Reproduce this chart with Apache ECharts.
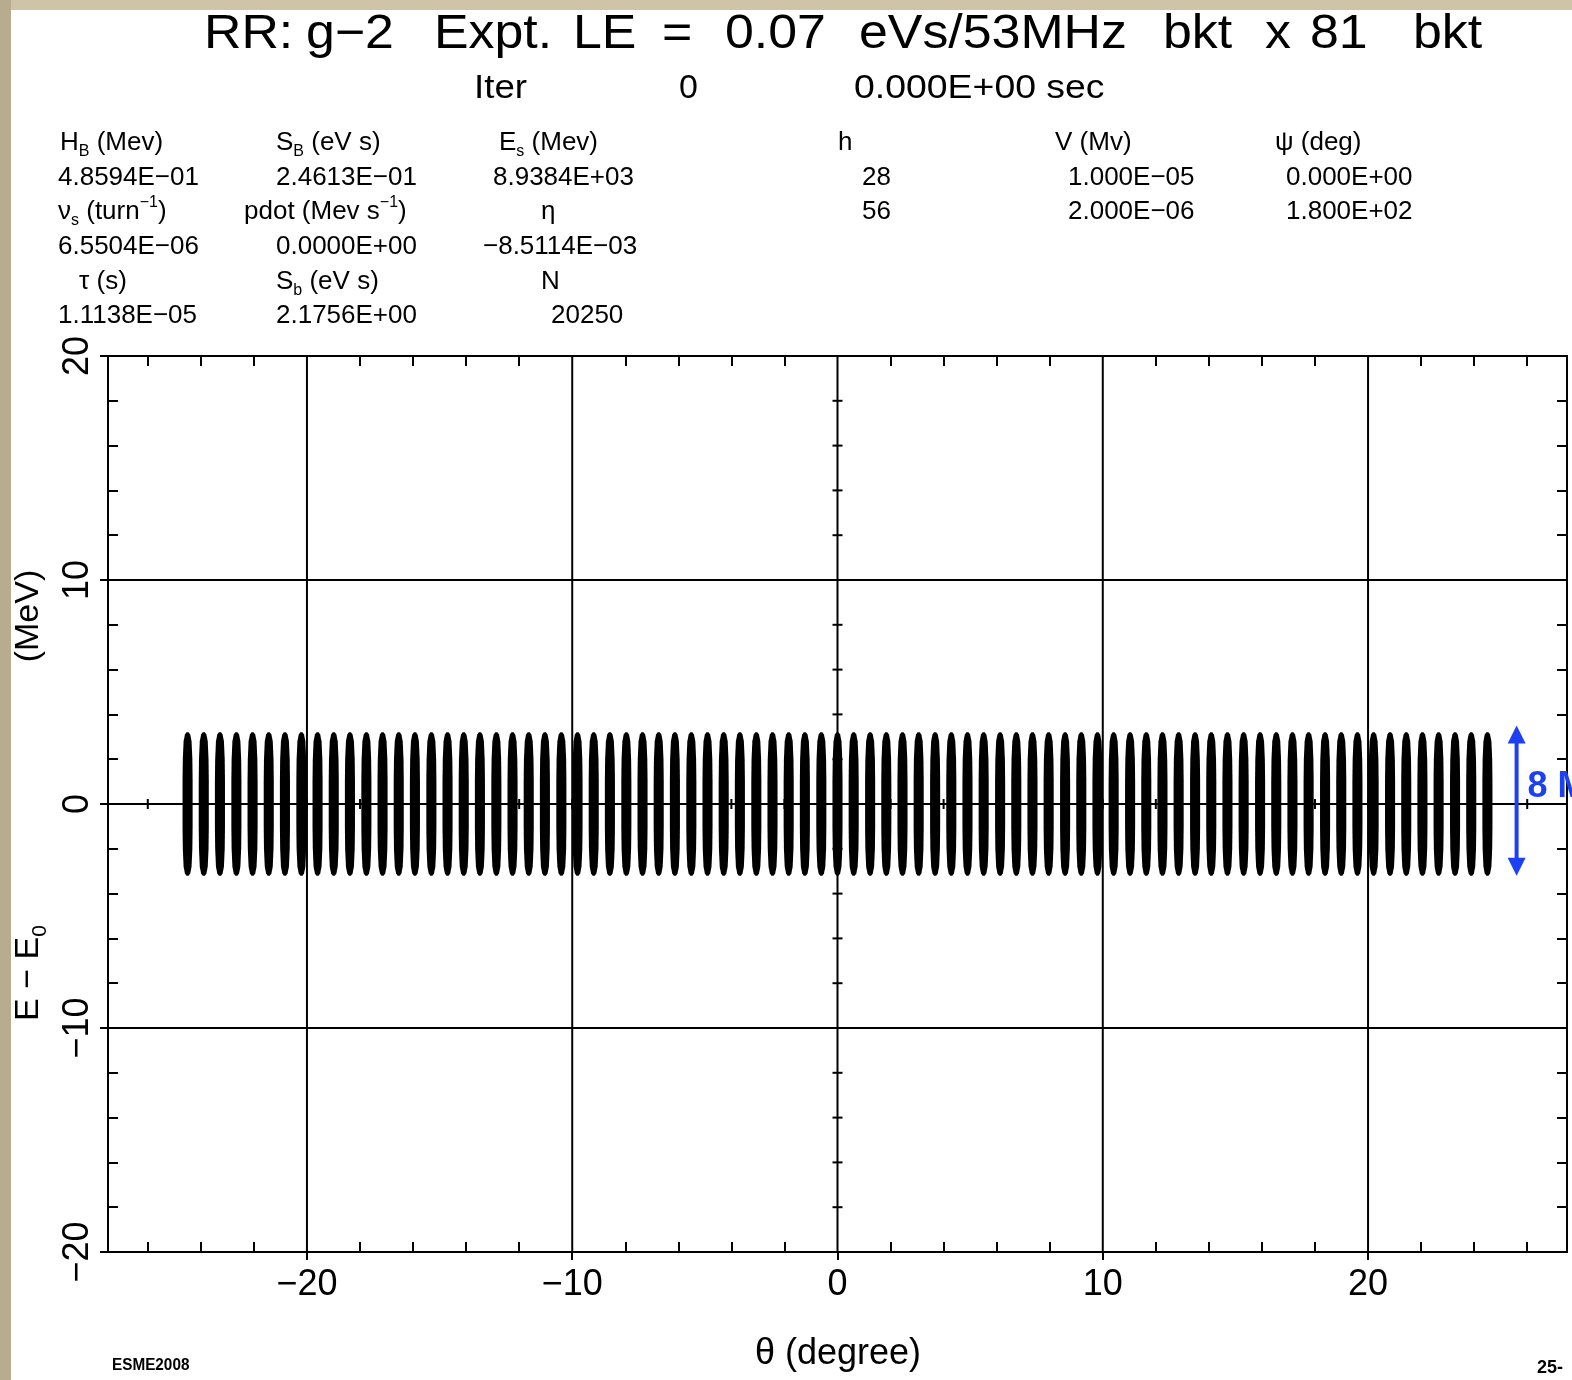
<!DOCTYPE html>
<html><head><meta charset="utf-8">
<script src="https://cdn.jsdelivr.net/npm/echarts@6/dist/echarts.min.js"></script>
<style>html,body{margin:0;padding:0;background:#fff}#c{width:1572px;height:1380px}</style>
</head><body><div id="c"></div>
<script>
// ---------- data ----------
const bunchCenters = [
 -24.50,-23.89,-23.28,-22.66,-22.05,-21.44,-20.83,-20.21,-19.60,-18.99,
 -18.38,-17.76,-17.15,-16.54,-15.93,-15.31,-14.70,-14.09,-13.48,-12.86,
 -12.25,-11.64,-11.03,-10.41,-9.80,-9.19,-8.58,-7.96,-7.35,-6.74,
 -6.13,-5.51,-4.90,-4.29,-3.68,-3.06,-2.45,-1.84,-1.23,-0.61,
 0.00,0.61,1.23,1.84,2.45,3.06,3.68,4.29,4.90,5.51,
 6.13,6.74,7.35,7.96,8.58,9.19,9.80,10.41,11.03,11.64,
 12.25,12.86,13.48,14.09,14.70,15.31,15.93,16.54,17.15,17.76,
 18.38,18.99,19.60,20.21,20.83,21.44,22.05,22.66,23.28,23.89,24.50
];
// shape of one bunch: energy (MeV) and half width (degree) along its outline
const bunchProfileE = [-3.2,-3.1,-2.8,-2.0,-1.0,0.0,1.0,2.0,2.8,3.1,3.2];
const bunchProfileHalfWidth = [0.04,0.10,0.15,0.18,0.19,0.19,0.19,0.18,0.15,0.10,0.04];

const xRange = [-27.5, 27.5];
const yRange = [-20, 20];
const xLabelValues = [-20,-10,0,10,20];
const xMinorTicks = [-26,-24,-22,-18,-16,-14,-12,-8,-6,-4,-2,2,4,6,8,12,14,16,18,22,24,26];
const yLabelValues = [-20,-10,0,10,20];
const yMinorTicks = [-18,-16,-14,-12,-8,-6,-4,-2,2,4,6,8,12,14,16,18];
const gridLinesX = [-20,-10,0,10,20];
const gridLinesY = [-10,0,10];
const zeroLineTicksX = [-26,-24,-22,-20,-18,-16,-14,-12,-10,-8,-6,-4,-2,2,4,6,8,10,12,14,16,18,20,22,24,26];
const zeroLineTicksY = [-18,-16,-14,-12,-10,-8,-6,-4,-2,2,4,6,8,10,12,14,16,18];

const arrowX = 25.6, arrowLow = -3.2, arrowHigh = 3.5, arrowLabelE = 0.75;
const arrowLabel = '8 MeV';

// ---------- layout / style ----------
const FONT = "'Liberation Sans', Arial, sans-serif";
const BLUE = '#1d40f2';
const minus = v => String(v).replace('-', '\u2212');

const texts = [];
function T(text, x, y, size, extra) {
  texts.push(Object.assign({text, x, y, size}, extra || {}));
}
// title words
[['RR:',204],['g\u22122',306],['Expt.',434],['LE',573],['=',662],['0.07',725],
 ['eVs/53MHz',859],['bkt',1163],['x',1265],['81',1310],['bkt',1413]].forEach(w => T(w[0], w[1], 35, 48, {sx: 1.08}));
T('Iter', 474, 89, 34, {sx: 1.08}); T('0', 679, 89, 34); T('0.000E+00 sec', 854, 89, 34, {sx: 1.1});
const R = [143, 178, 212, 247, 282, 316];
T('H{sub|B} (Mev)', 60, R[0], 26); T('4.8594E\u221201', 58, R[1], 26);
T('\u03bd{sub|s} (turn{sup|\u22121})', 58, R[2], 26); T('6.5504E\u221206', 58, R[3], 26);
T('\u03c4 (s)', 79, R[4], 26); T('1.1138E\u221205', 58, R[5], 26);
T('S{sub|B} (eV s)', 276, R[0], 26); T('2.4613E\u221201', 276, R[1], 26);
T('pdot (Mev s{sup|\u22121})', 244, R[2], 26); T('0.0000E+00', 276, R[3], 26);
T('S{sub|b} (eV s)', 276, R[4], 26); T('2.1756E+00', 276, R[5], 26);
T('E{sub|s} (Mev)', 499, R[0], 26); T('8.9384E+03', 493, R[1], 26);
T('\u03b7', 541, R[2], 26); T('\u22128.5114E\u221203', 483, R[3], 26);
T('N', 541, R[4], 26); T('20250', 551, R[5], 26);
T('h', 838, R[0], 26); T('28', 862, R[1], 26); T('56', 862, R[2], 26);
T('V (Mv)', 1055, R[0], 26); T('1.000E\u221205', 1068, R[1], 26); T('2.000E\u221206', 1068, R[2], 26);
T('\u03c8 (deg)', 1275, R[0], 26); T('0.000E+00', 1286, R[1], 26); T('1.800E+02', 1286, R[2], 26);
T('\u03b8 (degree)', 838, 1354, 36, {align: 'center'});
T('(MeV)', 29, 616, 34, {align: 'center', rotation: Math.PI / 2});
T('E \u2212 E{sub|0}', 29, 973, 34, {align: 'center', rotation: Math.PI / 2});
T('ESME2008', 112, 1365, 17, {bold: true, sx: 0.9});
T('25-', 1537, 1368, 18, {bold: true});

function richFor(size) {
  return {
    sub: {fontSize: Math.round(size * 0.62), fontFamily: FONT, fill: '#000', verticalAlign: 'bottom', lineHeight: Math.round(size * 0.62)},
    sup: {fontSize: Math.round(size * 0.6), fontFamily: FONT, fill: '#000', verticalAlign: 'top', lineHeight: Math.round(size * 0.6)}
  };
}

const graphics = [
  {type: 'rect', shape: {x: 0, y: 0, width: 1572, height: 10}, style: {fill: '#cfc4a8'}, silent: true},
  {type: 'rect', shape: {x: 0, y: 0, width: 11, height: 1380}, style: {fill: '#b7ac8e'}, silent: true}
].concat(texts.map(t => ({
  type: 'text', x: t.x, y: t.y, rotation: t.rotation || 0, scaleX: t.sx || 1, silent: true,
  style: {
    text: t.text, x: 0, y: 0, fill: '#000',
    fontSize: t.size, fontFamily: FONT, fontWeight: t.bold ? 'bold' : 'normal',
    align: t.align || 'left', verticalAlign: 'middle',
    textAlign: t.align || 'left', textVerticalAlign: 'middle',
    lineHeight: Math.round(t.size * 1.3),
    rich: richFor(t.size)
  }
})));

const axisLineStyle = {color: '#000', width: 2};
function xAx(position, ticks, inside, len, showLine, labels) {
  return {
    type: 'value', gridIndex: 0, position, min: xRange[0], max: xRange[1],
    axisLine: {show: showLine, onZero: false, lineStyle: axisLineStyle},
    axisTick: {show: true, inside, length: len, customValues: ticks, lineStyle: axisLineStyle},
    axisLabel: labels ? {show: true, customValues: labels, formatter: minus, fontSize: 36,
      fontFamily: FONT, color: '#000', margin: 15} : {show: false},
    splitLine: {show: false}
  };
}
function yAx(position, ticks, inside, len, showLine, labels) {
  return {
    type: 'value', gridIndex: 0, position, min: yRange[0], max: yRange[1],
    axisLine: {show: showLine, onZero: false, lineStyle: axisLineStyle},
    axisTick: {show: true, inside, length: len, customValues: ticks, lineStyle: axisLineStyle},
    axisLabel: labels ? {show: true, customValues: labels, formatter: minus, fontSize: 36,
      fontFamily: FONT, color: '#000', rotate: 90, margin: 12} : {show: false},
    splitLine: {show: false}
  };
}

const lineSeriesBase = {type: 'custom', xAxisIndex: 0, yAxisIndex: 0, silent: true, animation: false};

const option = {
  backgroundColor: '#fff',
  animation: false,
  grid: {left: 108, top: 356, width: 1459, height: 896, containLabel: false, outerBoundsMode: 'none'},
  xAxis: [
    xAx('bottom', xMinorTicks, true, 10, true, xLabelValues),
    xAx('bottom', xLabelValues, false, 8, false, null),
    xAx('top', xMinorTicks, true, 10, true, null)
  ],
  yAxis: [
    yAx('left', yMinorTicks, true, 10, true, yLabelValues),
    yAx('left', yLabelValues, false, 8, false, null),
    yAx('right', yMinorTicks, true, 10, true, null)
  ],
  graphic: {elements: graphics},
  series: [
    Object.assign({}, lineSeriesBase, {
      name: 'bunches', z: 3,
      data: bunchCenters.map(c => [c, 0]),
      renderItem: (p, api) => {
        const c = api.value(0), pts = [];
        for (let i = 0; i < bunchProfileE.length; i++) pts.push(api.coord([c + bunchProfileHalfWidth[i], bunchProfileE[i]]));
        for (let i = bunchProfileE.length - 1; i >= 0; i--) pts.push(api.coord([c - bunchProfileHalfWidth[i], bunchProfileE[i]]));
        return {type: 'polygon', shape: {points: pts}, style: {fill: '#000'}};
      }
    }),
    Object.assign({}, lineSeriesBase, {
      name: 'gridX', z: 2,
      data: gridLinesX.map(v => [v, 0]),
      renderItem: (p, api) => {
        const a = api.coord([api.value(0), yRange[0]]), b = api.coord([api.value(0), yRange[1]]);
        return {type: 'line', shape: {x1: a[0], y1: a[1], x2: b[0], y2: b[1]}, style: {stroke: '#000', lineWidth: 2}};
      }
    }),
    Object.assign({}, lineSeriesBase, {
      name: 'gridY', z: 2,
      data: gridLinesY.map(v => [0, v]),
      renderItem: (p, api) => {
        const a = api.coord([xRange[0], api.value(1)]), b = api.coord([xRange[1], api.value(1)]);
        return {type: 'line', shape: {x1: a[0], y1: a[1], x2: b[0], y2: b[1]}, style: {stroke: '#000', lineWidth: 2}};
      }
    }),
    Object.assign({}, lineSeriesBase, {
      name: 'zeroTicksX', z: 2,
      data: zeroLineTicksX.map(v => [v, 0]),
      renderItem: (p, api) => {
        const a = api.coord([api.value(0), 0]);
        return {type: 'line', shape: {x1: a[0], y1: a[1] - 5, x2: a[0], y2: a[1] + 5}, style: {stroke: '#000', lineWidth: 2}};
      }
    }),
    Object.assign({}, lineSeriesBase, {
      name: 'zeroTicksY', z: 2,
      data: zeroLineTicksY.map(v => [0, v]),
      renderItem: (p, api) => {
        const a = api.coord([0, api.value(1)]);
        return {type: 'line', shape: {x1: a[0] - 5, y1: a[1], x2: a[0] + 5, y2: a[1]}, style: {stroke: '#000', lineWidth: 2}};
      }
    }),
    Object.assign({}, lineSeriesBase, {
      name: 'arrow', z: 5,
      data: [[arrowX, arrowLow, arrowHigh, arrowLabelE]],
      renderItem: (p, api) => {
        const top = api.coord([api.value(0), api.value(2)]);
        const bot = api.coord([api.value(0), api.value(1)]);
        const lab = api.coord([api.value(0), api.value(3)]);
        const x = top[0], hw = 9, hh = 18;
        return {type: 'group', children: [
          {type: 'line', shape: {x1: x, y1: top[1] + hh - 2, x2: x, y2: bot[1] - hh + 2}, style: {stroke: BLUE, lineWidth: 4}},
          {type: 'polygon', shape: {points: [[x, top[1]], [x - hw, top[1] + hh], [x + hw, top[1] + hh]]}, style: {fill: BLUE}},
          {type: 'polygon', shape: {points: [[x, bot[1]], [x - hw, bot[1] - hh], [x + hw, bot[1] - hh]]}, style: {fill: BLUE}},
          {type: 'text', x: x + 11, y: lab[1], style: {text: arrowLabel, fill: BLUE, fontSize: 36, fontWeight: 'bold',
            fontFamily: FONT, align: 'left', verticalAlign: 'middle', textAlign: 'left', textVerticalAlign: 'middle'}}
        ]};
      }
    })
  ]
};

const chart = echarts.init(document.getElementById('c'), null, {renderer: 'canvas'});
chart.setOption(option);
</script>
</body></html>
